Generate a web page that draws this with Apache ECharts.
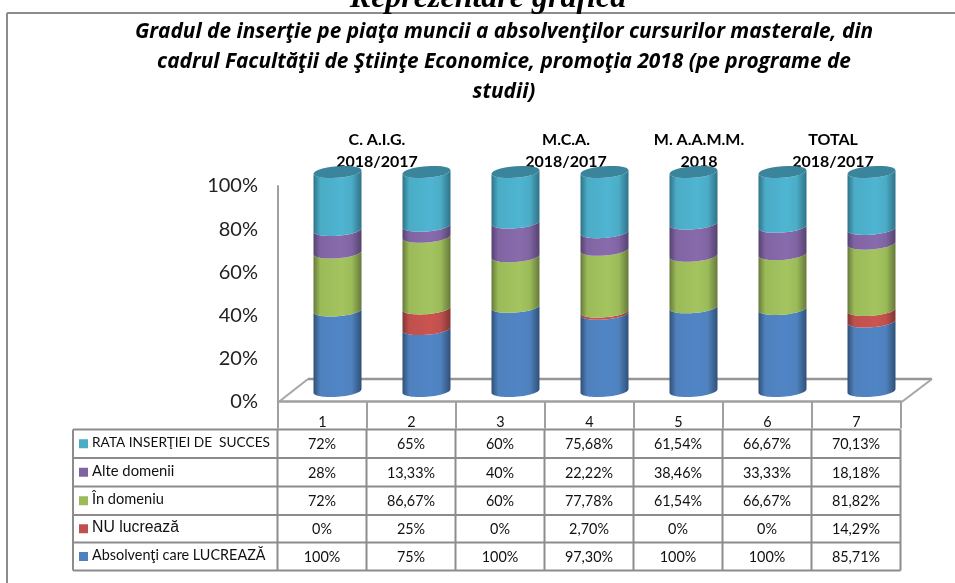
<!DOCTYPE html>
<html><head><meta charset="utf-8">
<style>html,body{margin:0;padding:0;background:#fff;overflow:hidden}#c{width:955px;height:583px}</style>
<script src="https://cdn.jsdelivr.net/npm/echarts@6/dist/echarts.min.js"></script>
</head><body><div id="c"></div>
<script>
const categories = ['1','2','3','4','5','6','7'];
const absolventi = [100,75,100,97.30,100,100,85.71];
const nuLucreaza = [0,25,0,2.70,0,0,14.29];
const inDomeniu = [72,86.67,60,77.78,61.54,66.67,81.82];
const alteDomenii = [28,13.33,40,22.22,38.46,33.33,18.18];
const rataInsertiei = [72,65,60,75.68,61.54,66.67,70.13];
const seriesNames = ['Absolvenţi care LUCREAZĂ','NU lucrează','În domeniu','Alte domenii','RATA INSERŢIEI DE  SUCCES'];
const seriesColors = ['#4f81bd','#c0504d','#9bbb59','#8064a2','#4bacc6'];
const seriesLight = ['#5085c6','#cb5450','#a3c45f','#886bac','#4fb5d2'];
const seriesDark = ['#2f5078','#7f3533','#66793a','#544270','#2f7288'];
const capColor = '#3a859c';
const yTicks = [0,20,40,60,80,100];
const groupLabels = ['C. A.I.G.\n2018/2017','M.C.A.\n2018/2017','M. A.A.M.M.\n2018','TOTAL\n2018/2017'];
const titleLines = 'Gradul de inserţie pe piaţa muncii a absolvenţilor cursurilor masterale, din\ncadrul Facultăţii de Ştiinţe Economice, promoţia 2018 (pe programe de\nstudii)';
const pageHeading = 'Reprezentare grafică';

const allSeries = [absolventi,nuLucreaza,inDomeniu,alteDomenii,rataInsertiei];
const totals = categories.map((_,i)=>allSeries.reduce((s,a)=>s+a[i],0));
const stacks = [];
allSeries.forEach((arr,k)=>{
  stacks.push(arr.map((v,i)=>{
    const base = allSeries.slice(0,k).reduce((s,a)=>s+a[i],0);
    return [i, base/totals[i]*100, (base+v)/totals[i]*100];
  }));
});

const RX = 24, RY = 5.8, SLOPE = -0.075, STEPS = 28;
function arc(cx,cy,t0,t1){
  const pts=[];
  for(let n=0;n<=STEPS;n++){
    const t=t0+(t1-t0)*n/STEPS, dx=RX*Math.cos(t);
    pts.push([cx+dx, cy+SLOPE*dx+RY*Math.sin(t)]);
  }
  return pts;
}
function renderCyl(k){
  return function(params,api){
    const i=api.value(0), a=api.value(1), b=api.value(2);
    const low=api.coord([i,a]), high=api.coord([i,b]);
    const children=[];
    if(b-a<=0.0001) return {type:'group',children};
    const pts=arc(low[0],low[1],0,Math.PI).concat(arc(high[0],high[1],Math.PI,0));
    children.push({type:'polygon',shape:{points:pts},style:{
      fill:new echarts.graphic.LinearGradient(0,0,1,0,[
        {offset:0,color:seriesDark[k]},{offset:0.14,color:seriesColors[k]},
        {offset:0.58,color:seriesLight[k]},{offset:0.8,color:seriesColors[k]},{offset:1,color:seriesDark[k]}])
    }});
    if(k===allSeries.length-1){
      children.push({type:'polygon',shape:{points:arc(high[0],high[1],0,2*Math.PI)},style:{fill:capColor}});
    }
    return {type:'group',children};
  };
}
const cylSeries = seriesNames.map((name,k)=>({
  type:'custom',name,xAxisIndex:1,yAxisIndex:1,z:5,clip:false,
  encode:{x:0,y:[1,2]},data:stacks[k],renderItem:renderCyl(k)
}));

function fmt(v){return (Number.isInteger(v)?String(v):v.toFixed(2).replace('.',','))+'%';}

const GRAY='#8c8c8c';
const LABEL_FONT='Lato';
const T_LEFT=73,T_SPLIT=277.5,T_COLW=89,rowY=[429.5,458,486.5,515,542.5,570.5];
const legendFonts=['14.4px Lato','15.8px "Liberation Sans"','14.6px Lato','14.8px Lato','13.7px Lato'];
const g=[];
function line(x1,y1,x2,y2,w,c){g.push({type:'line',shape:{x1,y1,x2,y2},style:{stroke:c||GRAY,lineWidth:w||2},z:1});}
// page frame
line(7,13,955,13,2,'#8c8c8c');line(7,13,7,583,2,'#8c8c8c');
// floor
const flr=[[278,402.5],[308,379],[932,379],[901,402.5]];
line(flr[0][0],flr[0][1],flr[1][0],flr[1][1],2,'#a6a6a6');line(flr[1][0],flr[1][1],flr[2][0],flr[2][1],2.5,'#969696');line(flr[2][0],flr[2][1],flr[3][0],flr[3][1],2,'#a6a6a6');
// table
rowY.forEach(y=>line(T_LEFT,y,T_SPLIT+7*T_COLW,y));
line(T_LEFT,rowY[0],T_LEFT,rowY[5]);
for(let c=0;c<=7;c++) line(T_SPLIT+c*T_COLW,rowY[0],T_SPLIT+c*T_COLW,rowY[5]);
// rows top to bottom
[4,3,2,1,0].forEach((k,r)=>{
  const yc=(rowY[r]+rowY[r+1])/2;
  g.push({type:'rect',shape:{x:79,y:yc-4.5,width:9,height:9},style:{fill:seriesColors[k]},z:2});
  g.push({type:'text',x:92,y:yc-1,style:{text:seriesNames[k],
    font:legendFonts[k],fill:'#111',textVerticalAlign:'middle',textAlign:'left'},z:2});
  allSeries[k].forEach((v,i)=>{
    g.push({type:'text',x:T_SPLIT+(i+0.5)*T_COLW,y:yc+1,style:{text:fmt(v),font:'14.4px '+LABEL_FONT,fill:'#111',textAlign:'center',textVerticalAlign:'middle'},z:2});
  });
});
// group headers
[377,566,699,833].forEach((x,i)=>{
  g.push({type:'text',x,y:151,style:{text:groupLabels[i],font:'bold 16px '+LABEL_FONT,fill:'#000',textAlign:'center',textVerticalAlign:'middle',lineHeight:22},z:1});
});
// heading and title
g.push({type:'text',x:488,y:-1,style:{text:pageHeading,font:'italic bold 32px "Liberation Serif"',fill:'#000',textAlign:'center',textVerticalAlign:'middle'},z:1});
g.push({type:'text',x:504,y:62,style:{text:titleLines,font:'italic bold 20.85px "Open Sans"',fill:'#000',textAlign:'center',textVerticalAlign:'middle',lineHeight:30},z:1});

const chart=echarts.init(document.getElementById('c'),null,{renderer:'canvas'});
chart.setOption({
  animation:false,backgroundColor:'#fff',
  grid:[
    {left:278,width:623,top:186,height:215.5},
    {left:293,width:623,top:172,height:219}
  ],
  xAxis:[
    {type:'category',gridIndex:0,data:categories,axisLine:{lineStyle:{color:'#a0a0a0',width:2.5}},
     axisTick:{show:true,alignWithLabel:false,interval:0,length:27,lineStyle:{color:'#a0a0a0',width:2}},
     axisLabel:{margin:14,color:'#111',fontSize:14.4,fontFamily:LABEL_FONT}},
    {type:'category',gridIndex:1,data:categories,show:false}
  ],
  yAxis:[
    {type:'value',gridIndex:0,min:0,max:100,interval:20,splitLine:{show:false},
     axisLine:{show:true,lineStyle:{color:'#a0a0a0',width:2}},axisTick:{show:false},
     axisLabel:{margin:20,padding:[5,0,0,0],color:'#222',fontSize:20,fontFamily:LABEL_FONT,formatter:v=>yTicks.includes(v)?v+'%':''}},
    {type:'value',gridIndex:1,min:0,max:100,show:false}
  ],
  graphic:{elements:g},
  series:cylSeries
});
</script></body></html>
